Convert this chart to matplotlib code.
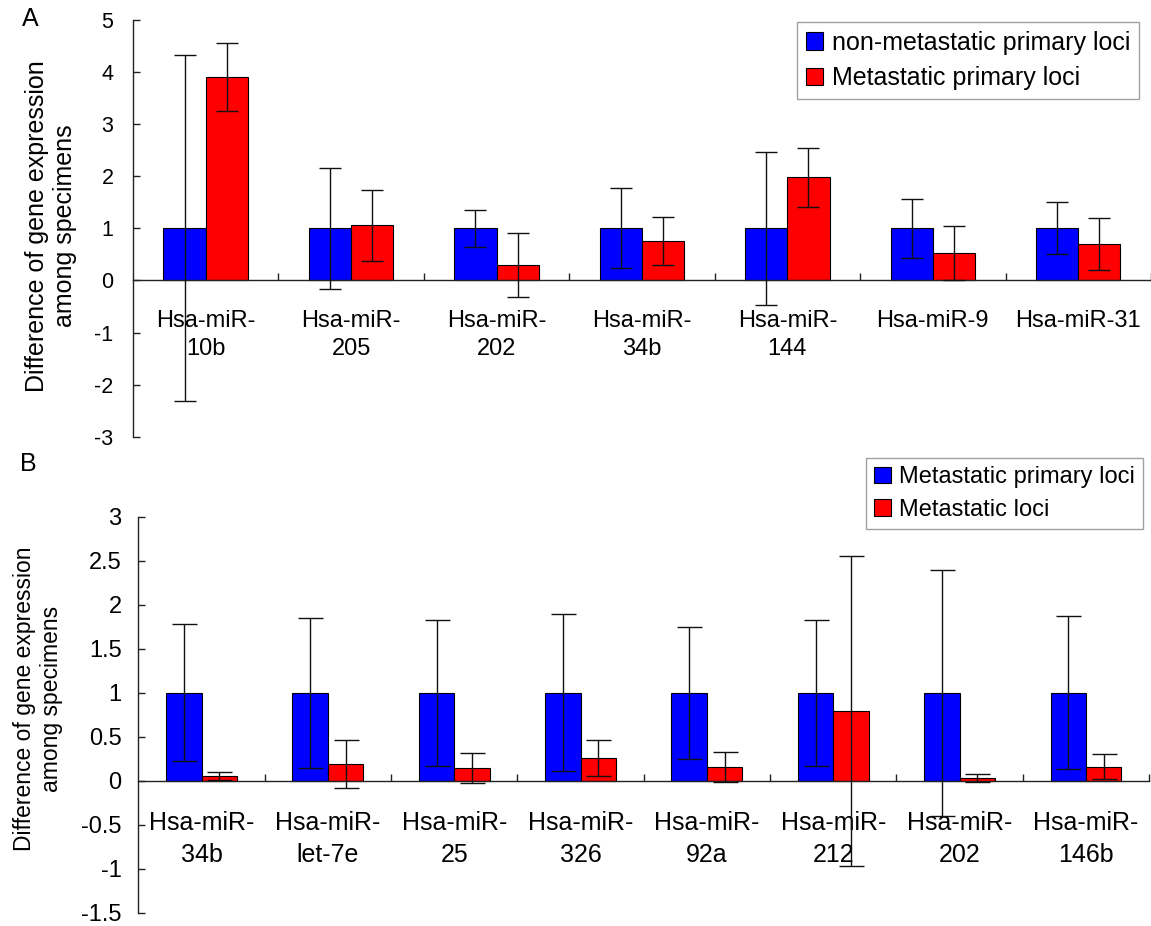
import matplotlib
matplotlib.use('Agg')
import matplotlib.pyplot as plt
import numpy as np

plt.rcParams['font.family'] = ['Liberation Sans', 'DejaVu Sans']

# panel A: non-metastatic vs metastatic primary loci
cats_a = ['Hsa-miR-\n10b', 'Hsa-miR-\n205', 'Hsa-miR-\n202', 'Hsa-miR-\n34b',
          'Hsa-miR-\n144', 'Hsa-miR-9', 'Hsa-miR-31']
nonmeta_a = [1, 1, 1, 1, 1, 1, 1]
nonmeta_a_err = [3.32, 1.16, 0.36, 0.77, 1.47, 0.56, 0.50]
meta_a = [3.91, 1.06, 0.30, 0.76, 1.98, 0.53, 0.70]
meta_a_err = [0.65, 0.68, 0.62, 0.46, 0.57, 0.52, 0.49]
yticks_a = [-3, -2, -1, 0, 1, 2, 3, 4, 5]

# panel B: metastatic primary loci vs metastatic loci
cats_b = ['Hsa-miR-\n34b', 'Hsa-miR-\nlet-7e', 'Hsa-miR-\n25', 'Hsa-miR-\n326',
          'Hsa-miR-\n92a', 'Hsa-miR-\n212', 'Hsa-miR-\n202', 'Hsa-miR-\n146b']
prim_b = [1, 1, 1, 1, 1, 1, 1, 1]
prim_b_err = [0.78, 0.85, 0.83, 0.89, 0.75, 0.83, 1.40, 0.87]
loci_b = [0.05, 0.19, 0.15, 0.26, 0.16, 0.79, 0.035, 0.16]
loci_b_err = [0.045, 0.27, 0.17, 0.20, 0.17, 1.76, 0.045, 0.14]
yticks_b = [-1.5, -1, -0.5, 0, 0.5, 1, 1.5, 2, 2.5, 3]

ylabel = 'Difference of gene expression\namong specimens'


def draw_panel(ax, cats, v1, e1, v2, e2, lab1, lab2, width, cap,
               yticks, ypad, ysize, xsize, xpad):
    x = np.arange(len(cats))
    ax.bar(x - width / 2, v1, width, color='#0000ff', edgecolor='black',
           linewidth=0.8, label=lab1, zorder=2)
    ax.bar(x + width / 2, v2, width, color='#ff0000', edgecolor='black',
           linewidth=0.8, label=lab2, zorder=2)
    ax.errorbar(x - width / 2, v1, yerr=e1, fmt='none', ecolor='#111111',
                elinewidth=1, capsize=cap, capthick=1, zorder=3)
    ax.errorbar(x + width / 2, v2, yerr=e2, fmt='none', ecolor='#111111',
                elinewidth=1, capsize=cap, capthick=1, zorder=3)

    ax.set_xlim(-0.5, len(cats) - 0.5)
    ax.set_ylim(yticks[0], yticks[-1])
    ax.spines['top'].set_visible(False)
    ax.spines['right'].set_visible(False)
    ax.spines['bottom'].set_position(('data', 0))
    for s in ('left', 'bottom'):
        ax.spines[s].set_linewidth(1)
        ax.spines[s].set_color('#222222')

    # category separators as inward ticks, labels centred between them
    ax.set_xticks(x + 0.5)
    ax.set_xticklabels([])
    ax.set_xticks(x, minor=True)
    ax.set_xticklabels(cats, minor=True)
    ax.tick_params(axis='x', which='major', direction='in', length=5,
                   width=1, color='#222222')
    ax.tick_params(axis='x', which='minor', length=0, pad=xpad,
                   labelsize=xsize)
    for t in ax.get_xticklabels(minor=True):
        t.set_linespacing(1.4)

    ax.set_yticks(yticks)
    ax.set_yticklabels([('%g' % v) for v in yticks])
    ax.tick_params(axis='y', direction='in', length=5, width=1,
                   color='#222222', pad=ypad, labelsize=ysize)


fig = plt.figure(figsize=(11.51, 9.26), dpi=100)

ax1 = fig.add_axes([0.1155, 0.5284, 0.8845, 0.45])
draw_panel(ax1, cats_a, nonmeta_a, nonmeta_a_err, meta_a, meta_a_err,
           'non-metastatic primary loci', 'Metastatic primary loci',
           0.29, 8, yticks_a, 14, 15.5, 17, 21)
leg1 = ax1.legend(loc='upper right', bbox_to_anchor=(1139 / 1151, 1 - 22 / 926),
                  bbox_transform=fig.transFigure, fontsize=18, fancybox=False,
                  edgecolor='#a0a0a0', framealpha=1, handlelength=0.7,
                  handleheight=0.7, handletextpad=0.35, labelspacing=0.45,
                  borderpad=0.35, borderaxespad=0)
leg1.get_frame().set_linewidth(1)

ax2 = fig.add_axes([0.1202, 0.0141, 0.8781, 0.4279])
draw_panel(ax2, cats_b, prim_b, prim_b_err, loci_b, loci_b_err,
           'Metastatic primary loci', 'Metastatic loci',
           0.28, 9, yticks_b, 12, 17, 18, 22)
leg2 = ax2.legend(loc='upper right', bbox_to_anchor=(1143 / 1151, 1 - 458 / 926),
                  bbox_transform=fig.transFigure, fontsize=17, fancybox=False,
                  edgecolor='#a0a0a0', framealpha=1, handlelength=0.7,
                  handleheight=0.7, handletextpad=0.35, labelspacing=0.45,
                  borderpad=0.35, borderaxespad=0)
leg2.get_frame().set_linewidth(1)

fig.text(51 / 1151, 1 - 226 / 926, ylabel, rotation=90, ha='center',
         va='center', fontsize=18, multialignment='center')
fig.text(38 / 1151, 1 - 699 / 926, ylabel, rotation=90, ha='center',
         va='center', fontsize=16.5, multialignment='center')

fig.text(30 / 1151, 1 - 19 / 926, 'A', ha='center', va='center', fontsize=18)
fig.text(28 / 1151, 1 - 464 / 926, 'B', ha='center', va='center', fontsize=18)

fig.savefig('out.png', dpi=100)
